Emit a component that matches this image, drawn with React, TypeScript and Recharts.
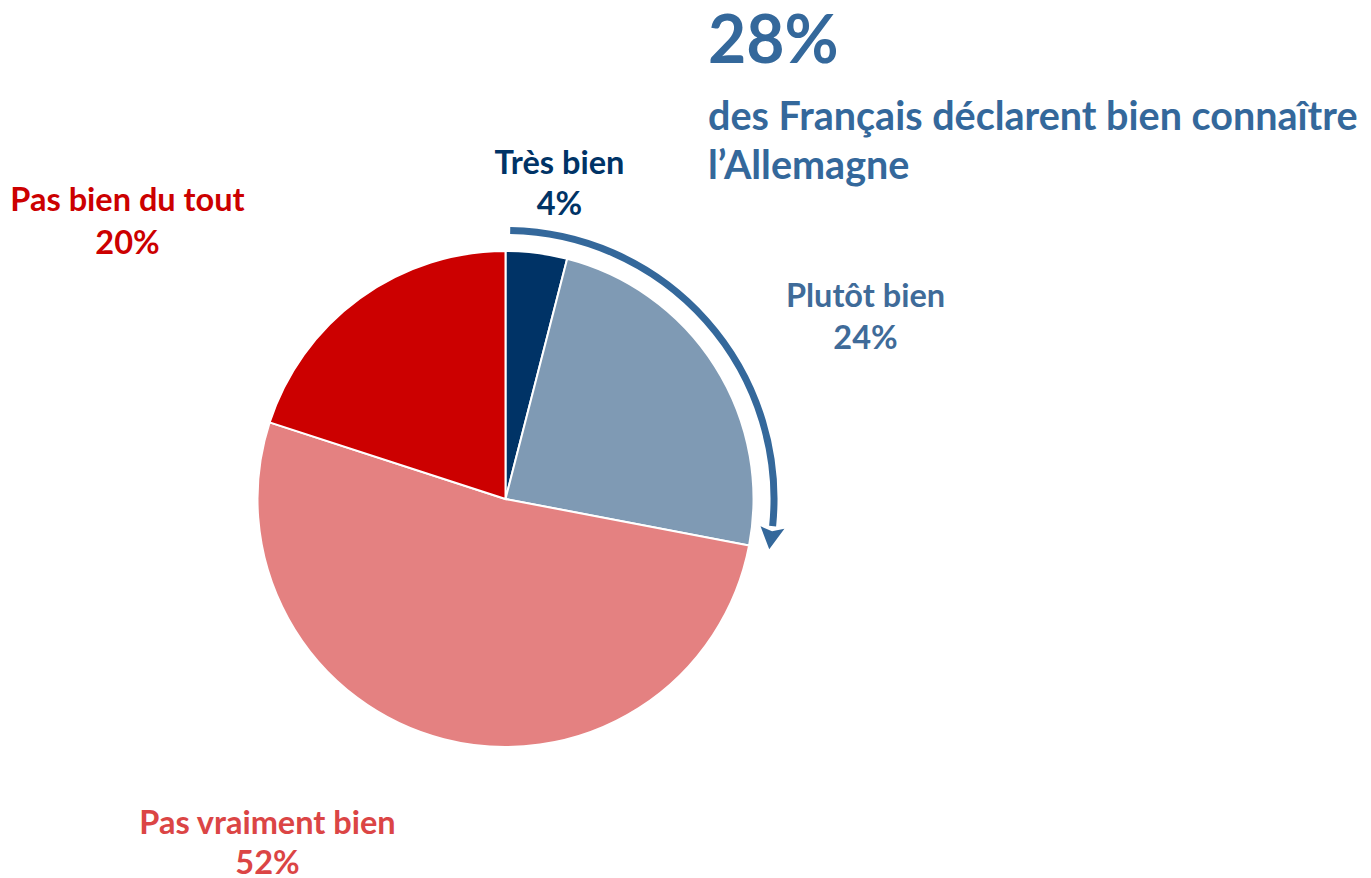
import React from "react";
import { PieChart, Pie, Cell } from "recharts";

const categories = ["Très bien", "Plutôt bien", "Pas vraiment bien", "Pas bien du tout"];
const values = [4, 24, 52, 20];
const valueLabels = ["4%", "24%", "52%", "20%"];
const highlightValues = [28, 72];
const headline = "28%";
const subtitleLines = ["des Français déclarent bien connaître", "l’Allemagne"];

const sliceColors = ["#003366", "#7F9AB4", "#E48181", "#CC0000"];
const labelColors = ["#003366", "#3F6B99", "#DB4545", "#CC0000"];
const ARROW_COLOR = "#34689B";
const FONT = "Lato, 'Open Sans', sans-serif";

// label block offsets relative to the pie centre (style constants)
const LABEL_OFFSETS: Record<string, { dx: number; dy1: number; dy2: number }> = {
  "Très bien": { dx: 54, dy1: -325, dy2: -284 },
  "Plutôt bien": { dx: 360, dy1: -192, dy2: -150 },
  "Pas vraiment bien": { dx: -238, dy1: 335, dy2: 375 },
  "Pas bien du tout": { dx: -378, dy1: -288, dy2: -245 },
};

const pieData = categories.map((name, i) => ({ name, value: values[i], label: valueLabels[i] }));
const arrowData = highlightValues.map((v, i) => ({ name: i === 0 ? "bien" : "rest", value: v }));

const W = 1355;
const H = 868;
const CX = 492.5;
const CY = 486;
const R = 248;
const RAD = Math.PI / 180;
const LABEL_SIZE = 32.5;

const polar = (cx: number, cy: number, r: number, a: number) => ({
  x: cx + Math.cos(-a * RAD) * r,
  y: cy + Math.sin(-a * RAD) * r,
});

const renderLabel = (props: any) => {
  const { cx, cy, index } = props;
  const name = categories[index];
  const off = LABEL_OFFSETS[name];
  const color = labelColors[index];
  return (
    <g key={`lbl-${index}`}>
      <text x={cx + off.dx} y={cy + off.dy1} textAnchor="middle" fill={color}
        fontFamily={FONT} fontWeight={700} fontSize={LABEL_SIZE}>{name}</text>
      <text x={cx + off.dx} y={cy + off.dy2} textAnchor="middle" fill={color}
        fontFamily={FONT} fontWeight={700} fontSize={LABEL_SIZE}>{valueLabels[index]}</text>
    </g>
  );
};

const ArrowShape = (props: any) => {
  const { cx, cy, innerRadius, outerRadius, startAngle, endAngle, index } = props;
  if (index !== 0) return <g />;
  const r = (innerRadius + outerRadius) / 2;
  const sw = outerRadius - innerRadius;
  const headLenDeg = (22 / r) / RAD;
  const start = startAngle - 1;
  const baseA = endAngle + headLenDeg;
  const p0 = polar(cx, cy, r, start);
  const p1 = polar(cx, cy, r, baseA + 0.3);
  const d = `M${p0.x},${p0.y} A${r},${r} 0 0 1 ${p1.x},${p1.y}`;
  const tip = polar(cx, cy, r, endAngle);
  const wo = polar(cx, cy, r + 12, baseA);
  const wi = polar(cx, cy, r - 12, baseA);
  const notch = polar(cx, cy, r, baseA - 0.8);
  return (
    <g>
      <path d={d} fill="none" stroke={ARROW_COLOR} strokeWidth={sw} />
      <path d={`M${tip.x},${tip.y} L${wo.x},${wo.y} L${notch.x},${notch.y} L${wi.x},${wi.y} Z`} fill={ARROW_COLOR} />
    </g>
  );
};

export default function App() {
  return (
    <div style={{ position: "relative", width: W, height: H }}>
      <PieChart width={W} height={H}>
        <Pie
          data={pieData}
          dataKey="value"
          cx={CX}
          cy={CY}
          outerRadius={R}
          startAngle={90}
          endAngle={-270}
          stroke="#FFFFFF"
          strokeWidth={2}
          label={renderLabel}
          labelLine={false}
          isAnimationActive={false}
        >
          {pieData.map((d, i) => (
            <Cell key={d.name} fill={sliceColors[i]} />
          ))}
        </Pie>
        <Pie
          data={arrowData}
          dataKey="value"
          cx={CX}
          cy={CY}
          innerRadius={265}
          outerRadius={272}
          startAngle={90}
          endAngle={-270}
          stroke="none"
          shape={ArrowShape}
          isAnimationActive={false}
        >
          {arrowData.map((d, i) => (
            <Cell key={d.name} fill={i === 0 ? ARROW_COLOR : "transparent"} />
          ))}
        </Pie>
      </PieChart>
      <svg width={W} height={H} style={{ position: "absolute", left: 0, top: 0, pointerEvents: "none", overflow: "visible" }}>
        <text x={700} y={55} fill={ARROW_COLOR} fontFamily={FONT} fontWeight={700} fontSize={66}>{headline}</text>
        <text x={700} y={122} fill={ARROW_COLOR} fontFamily={FONT} fontWeight={700} fontSize={39.5}>{subtitleLines[0]}</text>
        <text x={700} y={171} fill={ARROW_COLOR} fontFamily={FONT} fontWeight={700} fontSize={39.5}>{subtitleLines[1]}</text>
      </svg>
    </div>
  );
}
